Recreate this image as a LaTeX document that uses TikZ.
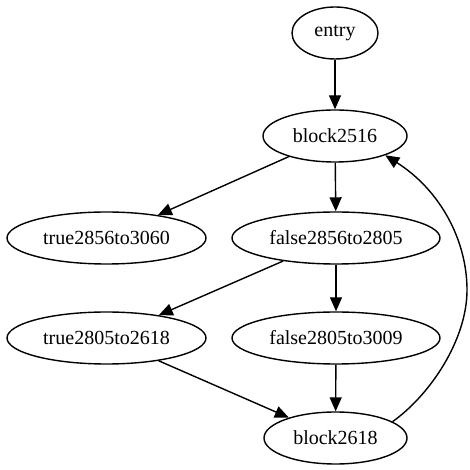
\documentclass[tikz,border=0pt]{standalone}
\usepackage{fontspec}
\setmainfont{Liberation Serif}
\usetikzlibrary{arrows.meta,shapes.geometric}
\begin{document}
\begin{tikzpicture}[x=1pt,y=1pt,
  state/.style={draw,ellipse,line width=1.4pt,inner sep=0pt,minimum height=52pt,
    font=\fontsize{20}{24}\selectfont},
  flow/.style={line width=1.4pt,-{Triangle[length=14pt,width=12pt]}}]
\useasboundingbox (0,0) rectangle (469,470);
\node[state,minimum width=86pt]  (entry) at (335,437) {entry};
\node[state,minimum width=144pt] (b2516) at (335,334) {block2516};
\node[state,minimum width=199pt] (t3060) at (106.5,232) {true2856to3060};
\node[state,minimum width=208pt] (f2805) at (336,232) {false2856to2805};
\node[state,minimum width=199pt] (t2618) at (106.5,132) {true2805to2618};
\node[state,minimum width=208pt] (f3009) at (336,132) {false2805to3009};
\node[state,minimum width=143pt] (b2618) at (335.5,32) {block2618};
\coordinate (loopR) at (467,180);
\draw[flow] (entry) -- (b2516);
\draw[flow] (b2516) -- (t3060);
\draw[flow] (b2516) -- (f2805);
\draw[flow] (f2805) -- (t2618);
\draw[flow] (f2805) -- (f3009);
\draw[flow] (t2618) -- (b2618);
\draw[flow] (f3009) -- (b2618);
\draw[flow] (b2618.16) .. controls (430,75) and (467,130) .. (loopR)
  .. controls (467,230) and (440,280) .. (b2516.-21);
\end{tikzpicture}
\end{document}
